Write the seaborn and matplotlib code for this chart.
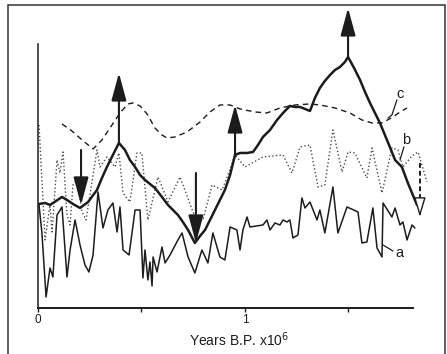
import matplotlib
matplotlib.use("Agg")
import matplotlib.pyplot as plt
import seaborn as sns
import pandas as pd
from matplotlib.patches import Rectangle

# ages in Myr B.P., values in arbitrary units (no y scale in the original)
thick_age = [0.005, 0.034, 0.058, 0.087, 0.116, 0.140, 0.169, 0.203, 0.242, 0.285,
             0.309, 0.333, 0.357, 0.391, 0.420, 0.444, 0.469, 0.493, 0.517, 0.565,
             0.599, 0.628, 0.652, 0.676, 0.700, 0.725, 0.758, 0.783, 0.807, 0.831,
             0.855, 0.879, 0.903, 0.928, 0.952, 0.976, 1.010, 1.039, 1.063, 1.087,
             1.121, 1.155, 1.184, 1.217, 1.242, 1.266, 1.290, 1.314, 1.338, 1.362,
             1.386, 1.411, 1.435, 1.459, 1.483, 1.498, 1.527, 1.556, 1.580, 1.604,
             1.628, 1.652, 1.676, 1.700, 1.725, 1.758, 1.787, 1.807, 1.831]
thick_val = [104, 105, 103, 107, 111, 108, 104, 100, 106, 118,
             130, 141, 151, 165, 158, 148, 141, 133, 128, 120,
             111, 103, 98, 93, 86, 78, 65, 72, 78, 88,
             98, 108, 118, 133, 153, 155, 155, 156, 163, 171,
             178, 188, 195, 202, 201, 201, 199, 197, 210, 220,
             227, 233, 238, 241, 246, 251, 240, 228, 216, 205,
             195, 185, 173, 161, 148, 141, 125, 115, 103]

a_age = [0.005, 0.019, 0.039, 0.058, 0.072, 0.092, 0.116, 0.140, 0.155, 0.179,
         0.203, 0.227, 0.246, 0.266, 0.290, 0.314, 0.338, 0.362, 0.382, 0.396,
         0.411, 0.440, 0.469, 0.493, 0.507, 0.517, 0.531, 0.541, 0.551, 0.556,
         0.575, 0.599, 0.614, 0.638, 0.676, 0.696, 0.725, 0.758, 0.792, 0.821,
         0.845, 0.879, 0.903, 0.928, 0.961, 0.976, 0.990, 1.010, 1.024, 1.087,
         1.106, 1.121, 1.145, 1.169, 1.184, 1.203, 1.217, 1.232, 1.256, 1.275,
         1.290, 1.314, 1.348, 1.362, 1.386, 1.425, 1.449, 1.493, 1.546, 1.565,
         1.589, 1.618, 1.638, 1.662, 1.667, 1.710, 1.725, 1.749, 1.763, 1.783,
         1.807, 1.821]
a_val = [103, 75, 11, 40, 31, 93, 101, 31, 58, 88,
         63, 43, 36, 53, 116, 80, 98, 105, 76, 101,
         58, 53, 98, 98, 30, 58, 28, 46, 22, 51,
         36, 61, 45, 53, 68, 75, 51, 35, 58, 45,
         75, 51, 48, 81, 78, 58, 78, 91, 81, 83,
         88, 78, 85, 83, 88, 86, 88, 70, 73, 110,
         100, 106, 88, 98, 75, 121, 75, 101, 96, 65,
         66, 100, 60, 51, 105, 91, 100, 83, 86, 68,
         83, 80]

b_age = [0.005, 0.034, 0.058, 0.068, 0.092, 0.106, 0.121, 0.140, 0.155, 0.169,
         0.188, 0.213, 0.232, 0.251, 0.285, 0.300, 0.333, 0.372, 0.391, 0.411,
         0.444, 0.478, 0.502, 0.531, 0.580, 0.628, 0.686, 0.758, 0.797, 0.841,
         0.889, 0.918, 0.952, 1.000, 1.087, 1.184, 1.227, 1.266, 1.314, 1.353,
         1.386, 1.425, 1.469, 1.498, 1.531, 1.589, 1.614, 1.662, 1.710, 1.739,
         1.763, 1.807, 1.836, 1.879]
b_val = [183, 68, 103, 76, 148, 135, 156, 93, 83, 123,
         128, 96, 88, 113, 158, 141, 151, 141, 155, 115,
         106, 155, 155, 88, 131, 106, 131, 91, 88, 123,
         118, 133, 153, 141, 151, 153, 135, 161, 163, 121,
         123, 178, 136, 156, 155, 130, 160, 115, 160, 158,
         141, 152, 156, 126]

c_age = [0.116, 0.164, 0.213, 0.266, 0.309, 0.348, 0.396, 0.435, 0.459, 0.493,
         0.527, 0.565, 0.599, 0.623, 0.662, 0.720, 0.783, 0.831, 0.879, 0.928,
         0.976, 1.048, 1.106, 1.169, 1.242, 1.314, 1.362, 1.435, 1.507, 1.565,
         1.614, 1.662, 1.715, 1.749, 1.783]
c_val = [184, 177, 168, 159, 168, 180, 195, 204, 205, 202,
         194, 180, 173, 170, 171, 176, 186, 196, 203, 203,
         199, 196, 195, 200, 203, 204, 203, 200, 195, 188,
         185, 185, 191, 196, 200]

# solid arrows: age, start value, tip value
arrow_age = [0.208, 0.391, 0.763, 0.952, 1.498]
arrow_from = [158, 165, 135, 153, 251]
arrow_to = [103, 235, 65, 203, 300]

# dashed arrow with open head
dash_arrow_age = 1.845
dash_arrow_from = 145
dash_arrow_base = 108
dash_arrow_tip = 91

ink = "#1c1c1c"

sns.set_style("ticks")
plt.rcParams["font.family"] = ["Liberation Sans", "DejaVu Sans"]

fig = plt.figure(figsize=(4.47, 3.54), dpi=100)
ax = fig.add_axes([0.085, 0.130, 0.877, 0.856])

df_thick = pd.DataFrame({"age": thick_age, "val": thick_val})
df_a = pd.DataFrame({"age": a_age, "val": a_val})
df_b = pd.DataFrame({"age": b_age, "val": b_val})
df_c = pd.DataFrame({"age": c_age, "val": c_val})

sns.lineplot(data=df_b, x="age", y="val", ax=ax, color="#4a4a4a", lw=1.0,
             ls=":", sort=False, estimator=None)
sns.lineplot(data=df_c, x="age", y="val", ax=ax, color=ink, lw=1.0,
             sort=False, estimator=None)
ax.lines[-1].set_dashes((4, 3))
sns.lineplot(data=df_a, x="age", y="val", ax=ax, color=ink, lw=1.1,
             sort=False, estimator=None)
sns.lineplot(data=df_thick, x="age", y="val", ax=ax, color=ink, lw=1.8,
             sort=False, estimator=None)

for x, y0, y1 in zip(arrow_age, arrow_from, arrow_to):
    ax.annotate("", xy=(x, y1), xytext=(x, y0),
                arrowprops=dict(arrowstyle="-|>,head_length=1.7,head_width=0.46",
                                mutation_scale=10, lw=1.5, color=ink,
                                shrinkA=0, shrinkB=0))

ax.plot([dash_arrow_age, dash_arrow_age], [dash_arrow_from, dash_arrow_base],
        color=ink, lw=1.4, ls=(0, (2.5, 1.5)))
ax.annotate("", xy=(dash_arrow_age, dash_arrow_tip),
            xytext=(dash_arrow_age, dash_arrow_base),
            arrowprops=dict(arrowstyle="-|>,head_length=1.2,head_width=0.36",
                            mutation_scale=10, lw=1.0, ec=ink, fc="white",
                            shrinkA=0, shrinkB=0))

# curve labels with leader lines
ax.plot([1.667, 1.715], [63, 57], color=ink, lw=0.9)
ax.text(1.725, 55, "a", fontsize=10.5, ha="left", va="center", color=ink)
ax.plot([1.749, 1.768], [148, 161], color=ink, lw=0.9)
ax.text(1.778, 168, "b", fontsize=10.5, ha="center", va="center", color=ink)
ax.plot([1.691, 1.710, 1.734], [190, 193, 208], color=ink, lw=0.9)
ax.text(1.749, 214, "c", fontsize=10.5, ha="center", va="center", color=ink)

ax.set_xlim(0, 1.894)
ax.set_ylim(0, 303)
ax.set_ylabel("")
ax.set_yticks([])
ax.set_xticks([0, 0.5, 1, 1.5])
ax.set_xticklabels(["0", "", "1", ""])
ax.tick_params(axis="x", length=3, width=1, pad=1, labelsize=8.5, colors=ink)
for side in ["top", "right"]:
    ax.spines[side].set_visible(False)
ax.spines["left"].set_bounds(0, 264)
ax.spines["left"].set_linewidth(1.1)
ax.spines["bottom"].set_bounds(0, 1.812)
ax.spines["bottom"].set_linewidth(1.4)
ax.spines["left"].set_color(ink)
ax.spines["bottom"].set_color(ink)
ax.set_xlabel("Years B.P. x10$^6$", fontsize=10, color=ink)
ax.xaxis.set_label_coords(0.513, -0.075)

fig.add_artist(Rectangle((0.018, -0.05), 0.9775, 1.036, transform=fig.transFigure,
                         fill=False, ec="#333333", lw=1.1))

fig.savefig("out.png", dpi=100)
